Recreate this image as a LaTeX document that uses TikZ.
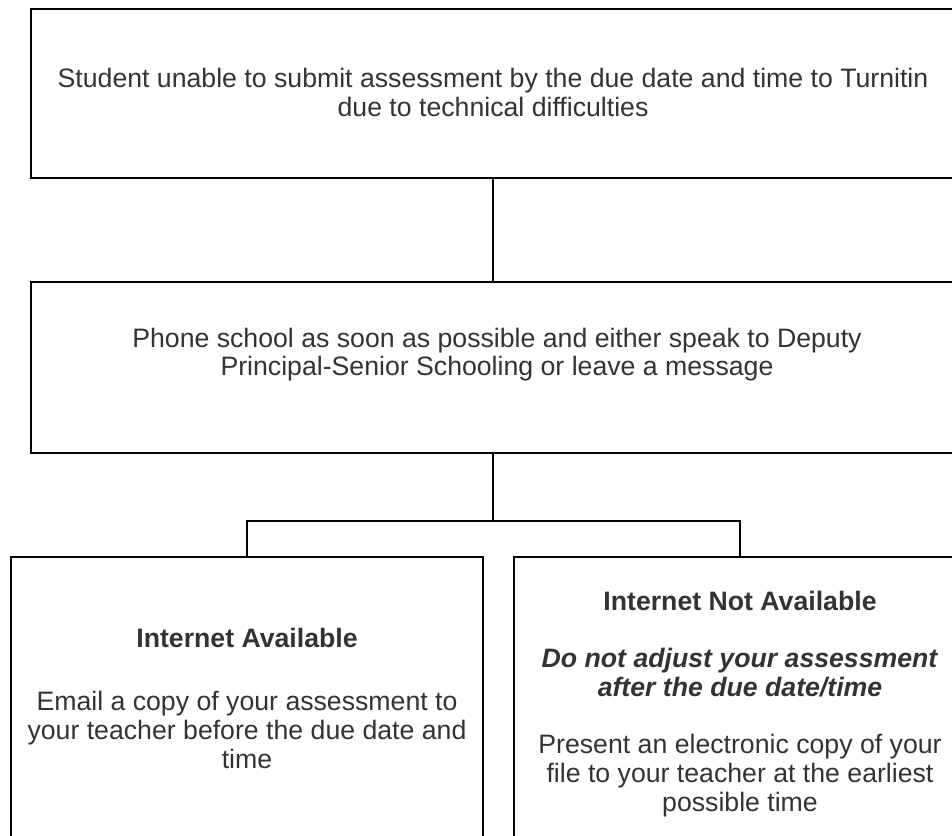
\documentclass[tikz,border=0pt]{standalone}
\usepackage{fontspec}
\setmainfont{Liberation Sans}
\usetikzlibrary{positioning}
\definecolor{inkgray}{HTML}{333333}

\begin{document}
\begin{tikzpicture}[x=0.75pt,y=0.75pt,font={\fontsize{20}{21.5}\selectfont}]
\tikzset{box/.style={draw,line width=1.5pt,inner sep=0pt}}
\tikzset{txt/.style={align=center,text=inkgray,inner sep=0pt}}
\tikzset{link/.style={line width=1.1pt}}
\useasboundingbox (0,0) rectangle (952,835);
% boxes
\node[box,minimum width=702pt,minimum height=126.75pt] (problem) at (499,741.5) {};
\node[box,minimum width=702pt,minimum height=128.25pt] (phone) at (499,467.5) {};
\node[box,minimum width=354pt,minimum height=247.5pt] (online) at (247,113) {};
\node[box,minimum width=339pt,minimum height=247.5pt] (offline) at (740,113) {};
\coordinate (split) at (493,314);
% texts
\node[txt] (problemtxt) at (493,742.5) {Student unable to submit assessment by the due date and time to Turnitin\\due to technical difficulties};
\node[txt] (phonetxt) at (497,480.5) {Phone school as soon as possible and either speak to Deputy\\Principal-Senior Schooling or leave a message};
\node[txt,anchor=north] (onlinetxt) at (247,207) {\textbf{Internet Available}\\[26pt]Email a copy of your assessment to\\your teacher before the due date and\\time};
\node[txt,anchor=north] (offlinetxt) at (740,244) {\textbf{Internet Not Available}\\[21.5pt]\textbf{\textit{Do not adjust your assessment}}\\\textbf{\textit{after the due date/time}}\\[21.5pt]Present an electronic copy of your\\file to your teacher at the earliest\\possible time};
% connectors
\draw[link] (problem.south -| split) -- (phone.north -| split);
\draw[link] (phone.south -| split) -- (split);
\draw[link] (split) -- (split -| online.north) -- (online.north);
\draw[link] (split) -- (split -| offline.north) -- (offline.north);
\end{tikzpicture}
\end{document}
